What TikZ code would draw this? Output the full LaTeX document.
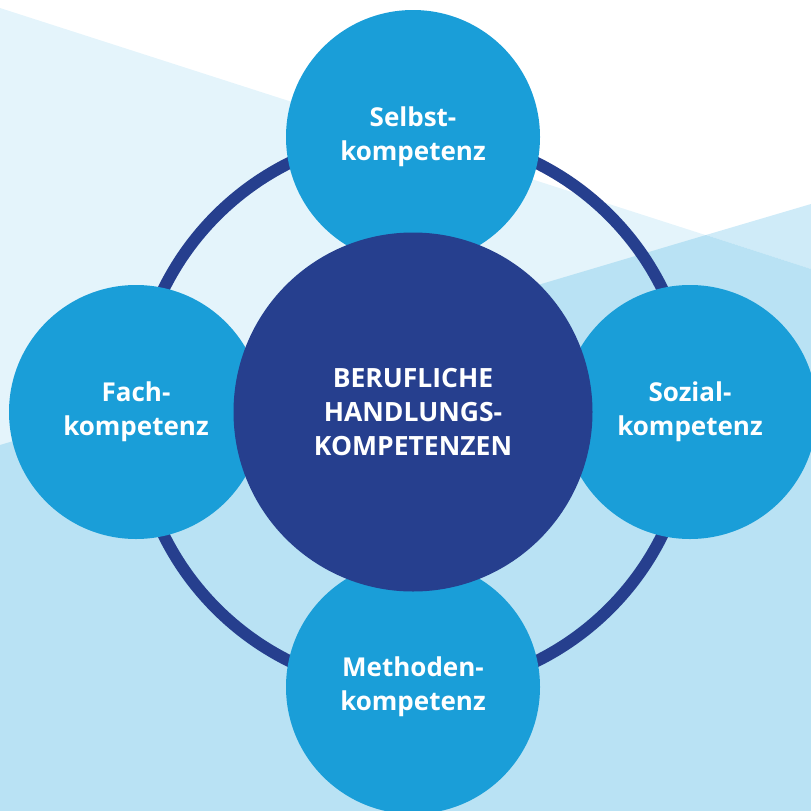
\documentclass[tikz,border=0pt]{standalone}
\usepackage{fontspec}
\setmainfont{Open Sans}
\usetikzlibrary{positioning}
\definecolor{pale}{HTML}{E4F4FB}
\definecolor{lightsky}{HTML}{CFEBF8}
\definecolor{sky}{HTML}{B9E2F4}
\definecolor{satblue}{HTML}{1A9ED8}
\definecolor{navy}{HTML}{263F8E}
\begin{document}
\begin{tikzpicture}[x=1pt, y=-1pt,
  satellite/.style = {circle, fill=satblue, text=white, minimum size=254pt,
    inner sep=0pt, align=center, font=\bfseries\fontsize{26}{34}\selectfont},
  core/.style = {circle, fill=navy, text=white, minimum size=359pt,
    inner sep=0pt, align=center, font=\bfseries\fontsize{26.5}{34}\selectfont}]
  \useasboundingbox (0,0) rectangle (811,811);
  % background bands
  \fill[pale] (0,8) -- (811,269) -- (811,811) -- (0,811) -- cycle;
  \fill[lightsky] (706,235) -- (811,204) -- (811,269) -- cycle;
  \fill[sky] (0,445) -- (706,235) -- (811,269) -- (811,811) -- (0,811) -- cycle;
  % ring
  \coordinate (mid) at (413,412);
  \draw[navy, line width=12pt] (mid) circle (278);
  % satellites
  \node[satellite] (selbst) at (413,137) {Selbst-\\kompetenz};
  \node[satellite] (fach) at (136,412) {Fach-\\kompetenz};
  \node[satellite] (sozial) at (690,412) {Sozial-\\kompetenz};
  \node[satellite] (methoden) at (413,687) {Methoden-\\kompetenz};
  % centre
  \node[core] (kern) at (mid) {BERUFLICHE\\HANDLUNGS-\\KOMPETENZEN};
\end{tikzpicture}
\end{document}
